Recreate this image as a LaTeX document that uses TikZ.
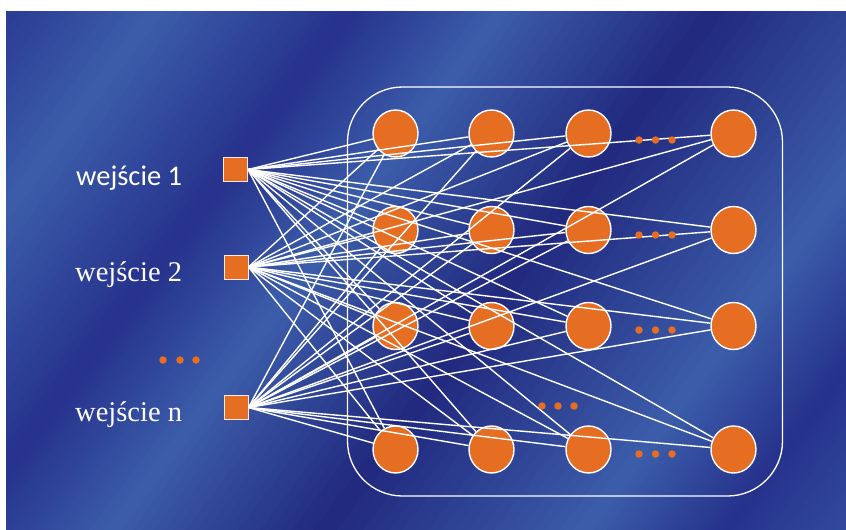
\documentclass[tikz,border=0pt]{standalone}
\usepackage{fontspec}
\usetikzlibrary{shapes.geometric}
\newfontfamily\calibfont{Carlito}
\newfontfamily\timesfont{Liberation Serif}

\definecolor{neuronorange}{RGB}{229,110,35}
\definecolor{bgD}{RGB}{38,50,140}
\definecolor{bgDD}{RGB}{33,41,126}
\definecolor{bgL}{RGB}{60,93,170}
\definecolor{bgM}{RGB}{52,80,160}

\tikzset{
  neuron/.style={ellipse, fill=neuronorange, draw=white, line width=1.4pt,
                 minimum width=45pt, minimum height=47pt, inner sep=0pt},
  inputbox/.style={rectangle, fill=neuronorange, draw=white!85!neuronorange,
                   line width=1pt, minimum size=24pt, inner sep=0pt},
  wire/.style={white, line width=1.4pt},
  orangedot/.style={circle, fill=neuronorange, inner sep=0pt, minimum size=7.5pt},
  inlabel/.style={text=white, inner sep=0pt, anchor=base west},
  layerbox/.style={draw=white, line width=1.3pt, rounded corners=55pt,
                   minimum width=435pt, minimum height=409pt}
}

\begin{document}
\begin{tikzpicture}[x=1pt, y=-1pt]
  \useasboundingbox (0,0) rectangle (846,530);
  \fill[white] (0,0) rectangle (846,530);

  % diagonal bands of the blue background
  \begin{scope}
    \clip (6,11) rectangle (846,530);
    \foreach \sa/\sb/\ca/\cb in {-20/134/bgD/bgL, 134/290/bgL/bgD, 290/410/bgD/bgL,
                                 410/580/bgL/bgDD, 580/790/bgDD/bgL, 790/900/bgL/bgD,
                                 900/1020/bgD/bgM}{
      \foreach \i in {0,...,19}{
        \pgfmathsetmacro\so{\sa+(\sb-\sa)*\i/20}
        \pgfmathsetmacro\st{\sa+(\sb-\sa)*(\i+1)/20+0.8}
        \pgfmathsetmacro\pc{100-100*(\i+0.5)/20}
        \fill[\ca!\pc!\cb] ({\so/0.8},-5) -- ({\st/0.8},-5)
              -- ({(\st-327)/0.8},540) -- ({(\so-327)/0.8},540) -- cycle;
      }
    }
  \end{scope}

  % frame around the layers
  \node[layerbox] (layers) at (565,291.5) {};

  % neurons: n<column><row>
  \foreach \c/\x in {1/395.5, 2/491.5, 3/588.5, 4/733.5}{
    \foreach \r/\y in {1/133.5, 2/230, 3/326, 4/449.5}{
      \node[neuron] (n\c\r) at (\x,\y) {};
    }
  }

  % inputs
  \node[inputbox] (in1) at (235.5,169.5) {};
  \node[inputbox] (in2) at (236,267) {};
  \node[inputbox] (in3) at (236,407.5) {};

  % connections from every input to every neuron
  \foreach \i in {1,2,3}{
    \foreach \c in {1,...,4}{
      \foreach \r in {1,...,4}{
        \draw[wire] (in\i.east) -- (n\c\r);
      }
    }
  }

  % ellipsis dots
  \foreach \k/\y in {1/140, 2/235, 3/330, 4/454}{
    \node[orangedot] (dA\k) at (639,\y) {};
    \node[orangedot] (dB\k) at (655.5,\y) {};
    \node[orangedot] (dC\k) at (672,\y) {};
  }
  \node[orangedot] (mA) at (542,406) {};
  \node[orangedot] (mB) at (558,406) {};
  \node[orangedot] (mC) at (574,406) {};
  \node[orangedot] (lA) at (163,360) {};
  \node[orangedot] (lB) at (180,360) {};
  \node[orangedot] (lC) at (196,360) {};

  % input labels
  \node[inlabel] (lbl1) at (76,185) {\calibfont\fontsize{28.5}{32}\selectfont wejście 1};
  \node[inlabel] (lbl2) at (75,281) {\timesfont\fontsize{28.5}{32}\selectfont wejście 2};
  \node[inlabel] (lbl3) at (75,421) {\timesfont\fontsize{28.5}{32}\selectfont wejście n};
\end{tikzpicture}
\end{document}
